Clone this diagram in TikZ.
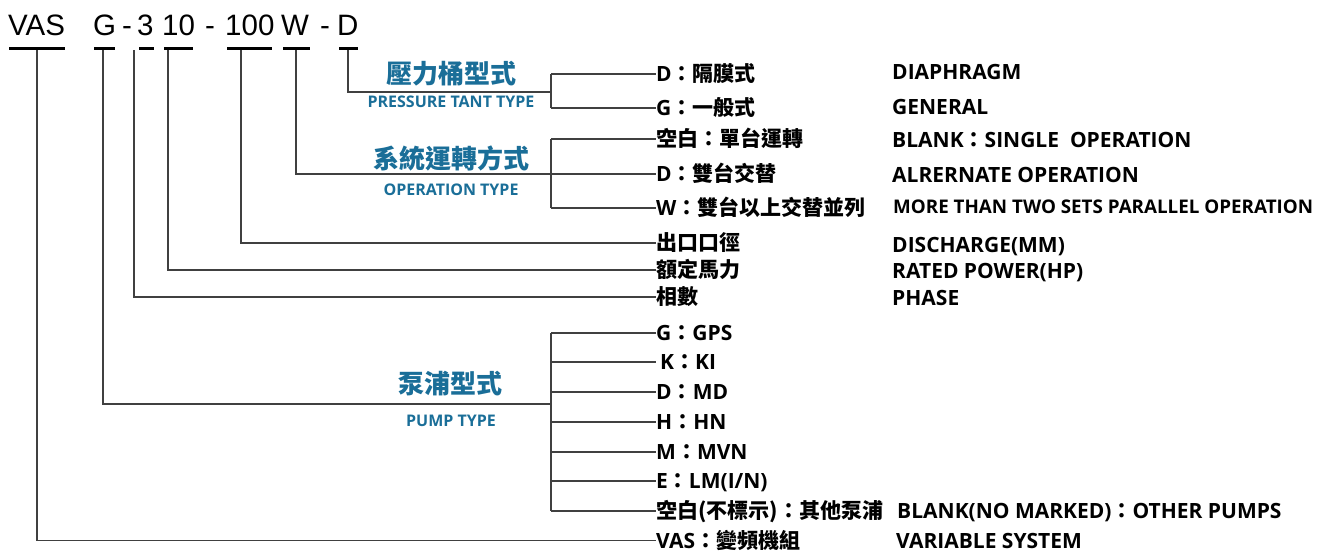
\documentclass[tikz,border=0pt]{standalone}
\usepackage{fontspec}
\setmainfont{Open Sans}
\newfontfamily\cjk{Noto Sans CJK TC}
\newfontfamily\codefont{Liberation Sans}
\usetikzlibrary{positioning}
\definecolor{headblue}{RGB}{26,110,152}
\newcommand\zh[1]{{\cjk #1}}
\tikzset{>=stealth,
  conn/.style={draw=black!75,line width=1.2pt},
  bar/.style={line width=3.5pt},
  code/.style={font=\codefont\fontsize{29.5}{29.5}\selectfont,inner sep=0pt,anchor=base west},
  lbl/.style={font=\bfseries\fontsize{21}{21}\selectfont,inner sep=0pt,anchor=west,text height=15pt,text depth=0pt},
  head/.style={font=\cjk\bfseries\fontsize{26}{26}\selectfont,text=headblue,inner sep=0pt},
  sub/.style={font=\bfseries\fontsize{16}{16}\selectfont,text=headblue,inner sep=0pt}
}

\begin{document}
\begin{tikzpicture}[x=1pt,y=-1pt]
\useasboundingbox (0,0) rectangle (1327,550);
% model code
\node[code] (vas) at (8,35.5) {VAS};
\node[code] (g) at (93,35.5) {G};
\node[code] (d1) at (122,35.5) {-};
\node[code] (ph) at (137,35.5) {3};
\node[code] (hp) at (162,35.5) {10};
\node[code] (d2) at (205,35.5) {-};
\node[code] (mm) at (225,35.5) {100};
\node[code] (w) at (281,35.5) {W};
\node[code] (d3) at (320,35.5) {-};
\node[code] (d) at (337,35.5) {D};
\draw[bar] (9,48.5) -- (65,48.5);
\draw[bar] (94,48.5) -- (115,48.5);
\draw[bar] (139,48.5) -- (154,48.5);
\draw[bar] (164,48.5) -- (193,48.5);
\draw[bar] (227,48.5) -- (272,48.5);
\draw[bar] (283,48.5) -- (310,48.5);
\draw[bar] (339,48.5) -- (358,48.5);
\coordinate (c-vas) at (37,50);
\coordinate (c-g) at (103,50);
\coordinate (c-ph) at (134,50);
\coordinate (c-hp) at (168,50);
\coordinate (c-mm) at (241,50);
\coordinate (c-w) at (296,50);
\coordinate (c-d) at (348,50);
\coordinate (tf) at (551,92);
\coordinate (of) at (551,174);
\coordinate (pf) at (551,404);

% headings
\node[head] (h-tank) at (451,74) {壓力桶型式};
\node[sub] (s-tank) at (451,102) {PRESSURE TANT TYPE};
\node[head] (h-op) at (451,158) {系統運轉方式};
\node[sub] (s-op) at (451,190) {OPERATION TYPE};
\node[head] (h-pump) at (450,384) {泵浦型式};
\node[sub] (s-pump) at (451,421) {PUMP TYPE};

% chinese labels
\node[lbl] (l-dia) at (656,74) {D\zh{：隔膜式}};
\node[lbl] (l-gen) at (656,108) {G\zh{：一般式}};
\node[lbl] (l-single) at (656,139) {\zh{空白：單台運轉}};
\node[lbl] (l-alt) at (656,174) {D\zh{：雙台交替}};
\node[lbl] (l-multi) at (656,208) {W\zh{：雙台以上交替並列}};
\node[lbl] (l-dis) at (656,243) {\zh{出口口徑}};
\node[lbl] (l-pow) at (656,270) {\zh{額定馬力}};
\node[lbl] (l-phase) at (656,297) {\zh{相數}};
\node[lbl] (l-gps) at (656,333) {G\zh{：}GPS};
\node[lbl] (l-ki) at (656,362) {\hspace{4pt}K\zh{：}KI};
\node[lbl] (l-md) at (656,392) {D\zh{：}MD};
\node[lbl] (l-hn) at (656,422) {H\zh{：}HN};
\node[lbl] (l-mvn) at (656,452) {M\zh{：}MVN};
\node[lbl] (l-lm) at (656,481) {E\zh{：}LM(I/N)};
\node[lbl] (l-other) at (656,511) {\zh{空白(不標示)：其他泵浦}};
\node[lbl] (l-vas) at (656,540.5) {VAS\zh{：變頻機組}};

% english labels
\node[lbl] (e-dia) at (892,72) {DIAPHRAGM};
\node[lbl] (e-gen) at (892,107) {GENERAL};
\node[lbl] (e-single) at (892,140) {BLANK\zh{：}SINGLE\ \ OPERATION};
\node[lbl] (e-alt) at (892,175) {ALRERNATE OPERATION};
\node[lbl,font=\bfseries\fontsize{18.8}{18.8}\selectfont] (e-multi) at (893,206) {MORE THAN TWO SETS PARALLEL OPERATION};
\node[lbl] (e-dis) at (892,245) {DISCHARGE(MM)};
\node[lbl] (e-pow) at (892,271) {RATED POWER(HP)};
\node[lbl] (e-phase) at (892,298) {PHASE};
\node[lbl] (e-other) at (897,511) {BLANK(NO MARKED)\zh{：}OTHER PUMPS};
\node[lbl] (e-vas) at (896,540.5) {VARIABLE SYSTEM};

% connectors
\draw[conn] (c-d) |- (tf);
\draw[conn] (tf |- l-dia.west) -- (tf |- l-gen.west);
\foreach \n in {dia,gen} \draw[conn] (tf |- l-\n.west) -- (l-\n.west);
\draw[conn] (c-w) |- (of);
\draw[conn] (of |- l-single.west) -- (of |- l-multi.west);
\foreach \n in {single,alt,multi} \draw[conn] (of |- l-\n.west) -- (l-\n.west);
\draw[conn] (c-mm) |- (l-dis.west);
\draw[conn] (c-hp) |- (l-pow.west);
\draw[conn] (c-ph) |- (l-phase.west);
\draw[conn] (c-g) |- (pf);
\draw[conn] (pf |- l-gps.west) -- (pf |- l-other.west);
\foreach \n in {gps,ki,md,hn,mvn,lm,other} \draw[conn] (pf |- l-\n.west) -- (l-\n.west);
\draw[conn] (c-vas) |- (l-vas.west);
\end{tikzpicture}
\end{document}
